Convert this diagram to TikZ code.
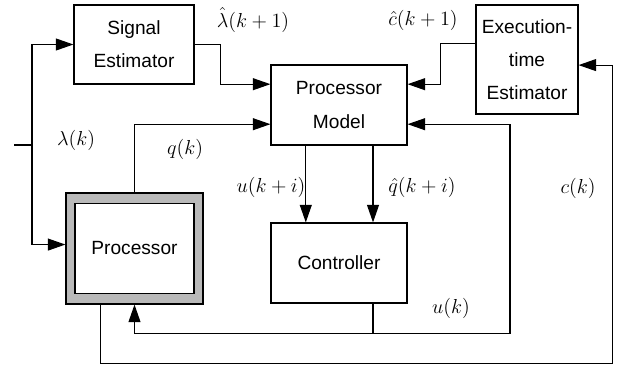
\documentclass[tikz,border=0pt]{standalone}
\usepackage{fontspec}
\newfontfamily\arialfont{Liberation Sans}
\usepackage{tikz}
\usetikzlibrary{calc, arrows.meta, positioning}

\begin{document}
\begin{tikzpicture}[x=0.025cm, y=-0.025cm, line width=0.8pt,
    blk/.style={draw=black, fill=white, align=center, inner sep=0pt,
        font=\arialfont\fontsize{13.6}{23.5}\selectfont},
    sig/.style={font=\fontsize{14}{16}\selectfont},
    >={Triangle[length=12.5pt, width=8.5pt]}]
            %方塊圖：處理器、估計器與控制器的回授迴路
            \useasboundingbox (0,0) rectangle (626,367);
            
            \node[blk, minimum width=3cm, minimum height=1.975cm] (sigest) at (134,44.5) {Signal\\Estimator};
            \node[blk, minimum width=3.4cm, minimum height=2cm] (pmodel) at (339,105) {Processor\\Model};
            \node[blk, minimum width=2.55cm, minimum height=2.725cm] (exest) at (527,59.5) {Execution-\\time\\Estimator};
            \node[blk, minimum width=3.4cm, minimum height=2cm] (ctrl) at (339,263) {Controller};
            \node[draw=black, fill=gray!55, minimum width=3.425cm, minimum height=2.775cm] (proc) at (134.5,248.5) {};
            \node[blk, minimum width=2.975cm, minimum height=2.25cm] (procin) at (proc.center) {Processor};
            
            \coordinate (in) at (14,145);
            \coordinate (split) at (32,145);
            
            % 輸入 lambda(k)
            \draw (in) -- (split);
            \draw[->] (split) |- (sigest.west);
            \draw[->] (split) |- ([yshift=2.8pt]proc.west);
            
            % 估計值送進處理器模型
            \draw[->] (sigest.east) -- ++(26,0) |- ([yshift=5.2mm]pmodel.west);
            \draw[->] (proc.north) |- ([yshift=-4.8mm]pmodel.west);
            \draw[->] ([yshift=3.9mm]exest.west) -- ++(-35,0) |- ([yshift=5.2mm]pmodel.east);
            
            % 預測值送進控制器
            \draw[->] ([xshift=-8.3mm]pmodel.south) -- ([xshift=-8.3mm]ctrl.north);
            \draw[->] ([xshift=8.5mm]pmodel.south) -- ([xshift=8.5mm]ctrl.north);
            
            % 控制量 u(k) 的回授
            \draw ([xshift=8.5mm]ctrl.south) -- ++(0,30) coordinate (ujoin);
            \draw[->] (ujoin) -| (proc.south);
            \draw[->] (ujoin) -- ++(137,0) |- ([yshift=-4.8mm]pmodel.east);
            
            % 執行時間 c(k) 的回授
            \draw[->] ([xshift=-8.6mm]proc.south) -- ++(0,59) -- ++(512,0) |- ([yshift=-1.4mm]exest.east);
            
            \node[sig] (lhat) at (253,20) {$\hat{\lambda}(k+1)$};
            \node[sig] (chat) at (423,20) {$\hat{c}(k+1)$};
            \node[sig] (lam) at (76,140) {$\lambda(k)$};
            \node[sig] (qk) at (185,149) {$q(k)$};
            \node[sig] (uki) at (271,187) {$u(k+i)$};
            \node[sig] (qhat) at (422,187) {$\hat{q}(k+i)$};
            \node[sig] (ck) at (578,188) {$c(k)$};
            \node[sig] (uk) at (451,308) {$u(k)$};
\end{tikzpicture}
\end{document}
